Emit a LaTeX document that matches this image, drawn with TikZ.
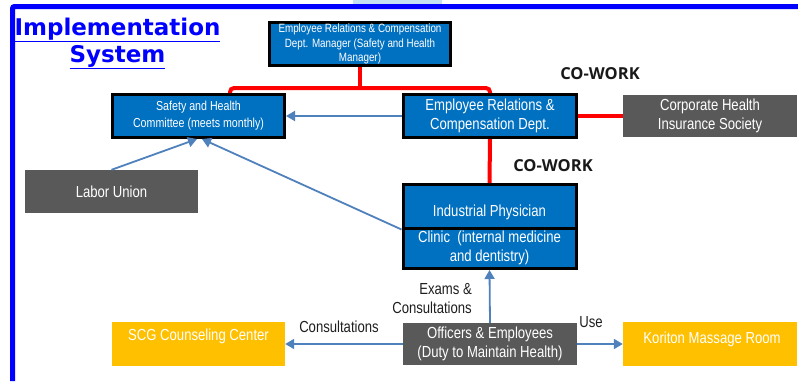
\documentclass[tikz,border=0pt]{standalone}
\usepackage{fontspec}
\setmainfont{Liberation Sans}
\newfontfamily\nar[FakeStretch=0.82]{Liberation Sans}
\newfontfamily\ttlfont{DejaVu Sans}
\newfontfamily\cwfont{Open Sans}
\usetikzlibrary{arrows.meta}
\definecolor{boxblue}{HTML}{0070C0}
\definecolor{boxgrey}{HTML}{595959}
\definecolor{boxyel}{HTML}{FFC000}
\definecolor{arrblue}{HTML}{4F81BD}
\definecolor{frameblue}{HTML}{0000FF}
\definecolor{stripblue}{HTML}{C5E0F2}
\tikzset{
  bluebox/.style={draw=black, line width=3pt, fill=boxblue, text=white, align=center,
    inner sep=0pt, minimum width=173pt, minimum height=43pt},
  greybox/.style={fill=boxgrey, text=white, align=center, inner sep=0pt,
    minimum width=174pt, minimum height=42pt, font=\nar\fontsize{16pt}{19pt}\selectfont},
  yelbox/.style={fill=boxyel, text=white, align=center, inner sep=0pt,
    minimum width=174pt, minimum height=44pt, font=\nar\fontsize{16pt}{19pt}\selectfont},
  arr/.style={draw=arrblue, line width=1.8pt, -{Triangle[width=10pt,length=9pt]}},
  redline/.style={draw=red, line width=4pt},
  lbl/.style={font=\nar\fontsize{16pt}{19pt}\selectfont, text=black!88, inner sep=0pt},
  cowork/.style={font=\cwfont\bfseries\fontsize{16.5pt}{19pt}\selectfont, inner sep=0pt, text=black!90}
}
\begin{document}
\begin{tikzpicture}[x=1pt,y=-1pt]
\useasboundingbox (0,0) rectangle (798,381);
\fill[white] (0,0) rectangle (798,381);
\fill[stripblue] (353,0) rectangle (442,4);
\draw[frameblue, line width=5pt, rounded corners=2pt] (12.5,381) -- (12.5,6.5) -- (798,6.5);

\node[inner sep=0pt, align=center, text=frameblue,
  font=\ttlfont\bfseries\fontsize{23pt}{27pt}\selectfont] (title) at (117.5,43.5)
  {\underline{Implementation}\\\underline{System}};

\node[bluebox, minimum width=181pt, font=\nar\fontsize{12pt}{14.5pt}\selectfont] (top) at (360,44)
  {Employee Relations \& Compensation\\Dept. Manager (Safety and Health\\Manager)};
\node[bluebox, minimum width=172pt, font=\nar\fontsize{13pt}{17pt}\selectfont] (safety) at (198.5,116)
  {Safety and Health\\Committee (meets monthly)};
\node[bluebox, font=\nar\fontsize{16pt}{19pt}\selectfont] (er) at (490,116)
  {Employee Relations \&\\Compensation Dept.};
\node[greybox] (corp) at (710,116) {Corporate Health\\Insurance Society};
\node[greybox, minimum width=173pt, minimum height=43pt] (labor) at (111.5,191.5) {Labor Union};
\node[bluebox, minimum height=43.5pt, font=\nar\fontsize{16pt}{19pt}\selectfont,
  text height=23pt, text depth=3.4pt] (phys) at (489.5,206.25) {Industrial Physician};
\node[bluebox, minimum height=40.5pt, font=\nar\fontsize{16pt}{19pt}\selectfont] (clinic) at (489.5,248.25)
  {Clinic~~(internal medicine\\and dentistry)};
\node[greybox] (off) at (490,344) {Officers \& Employees\\(Duty to Maintain Health)};
\node[yelbox, minimum width=173pt, text height=11.7pt, text depth=18pt] (scg) at (198.5,344)
  {SCG Counseling Center};
\node[yelbox, text height=11.7pt, text depth=12pt] (kor) at (710,344) {\hspace{4pt}Koriton Massage Room};

% red co-work lines
\draw[redline] (top.south) -- (top.south |- 0,88);
\draw[redline, rounded corners=4pt] (safety.north -| 230,0) -- (230,88) -- (er.north |- 0,88) -- (er.north);
\draw[redline] (er.east) -- (corp.west);
\draw[redline] (er.south) -- (phys.north);

\node[cowork] (cw1) at (600,74) {CO-WORK};
\node[cowork] (cw2) at (553,166) {CO-WORK};

% blue arrows
\draw[arr] (er.west) -- (safety.east);
\draw[arr] (labor.north) -- ([xshift=-1.5pt]safety.south);
\draw[arr] (phys.south west) -- ([xshift=3.5pt]safety.south);
\draw[arr] (off.north) -- (clinic.south);
\draw[arr] (off.west) -- (scg.east);
\draw[arr] (off.east) -- (kor.west);

\node[lbl, align=right, anchor=east] (exams) at (472,299) {Exams \&\\Consultations};
\node[lbl] (cons) at (339,327) {Consultations};
\node[lbl] (use) at (591,322) {Use};
\end{tikzpicture}
\end{document}
